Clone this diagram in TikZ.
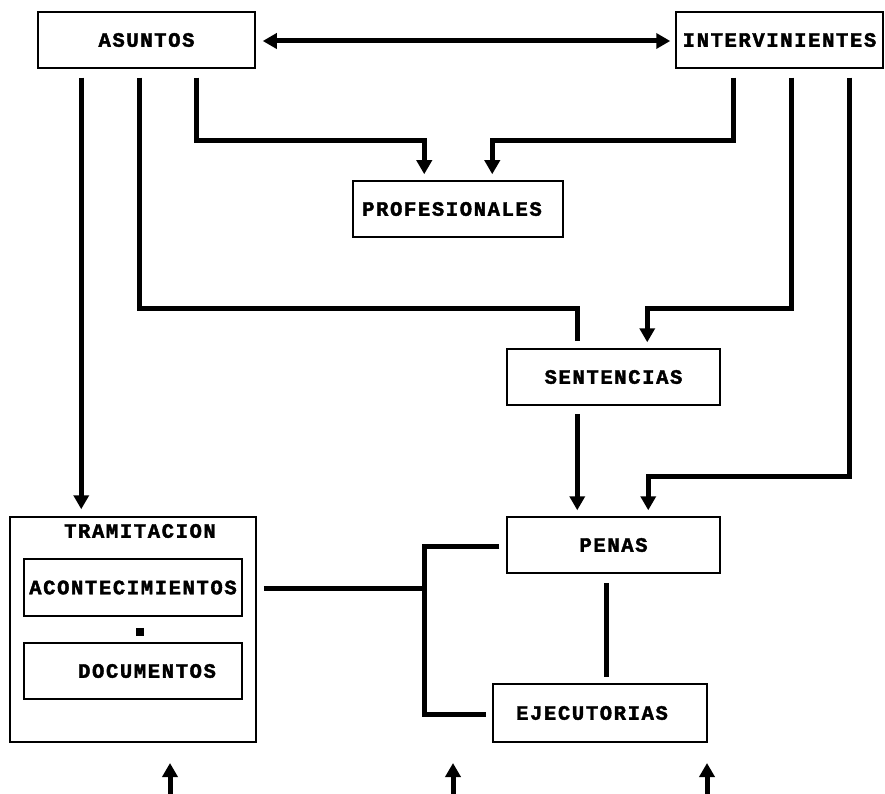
\documentclass[tikz,border=0pt]{standalone}
\usepackage{fontspec}
\setmonofont[LetterSpace=8,FakeBold=2]{Liberation Mono}
\usetikzlibrary{arrows.meta,calc}
\tikzset{
  box/.style={draw=black,line width=1.5pt,rectangle,inner sep=0pt,font=\ttfamily\bfseries\fontsize{20.5}{22}\selectfont},
  conn/.style={draw=black,line width=5pt},
  arr/.style={-{Triangle[width=15pt,length=14pt]}},
  darr/.style={{Triangle[width=15pt,length=14pt]}-{Triangle[width=15pt,length=14pt]}},
  lbl/.style={inner sep=0pt,font=\ttfamily\bfseries\fontsize{20.5}{22}\selectfont}
}
\begin{document}
\begin{tikzpicture}[x=1pt,y=-1pt]
\useasboundingbox (0,0) rectangle (885,794);
% nodes
\node[box,minimum width=217pt,minimum height=56pt] (asuntos) at (146.5,40) {ASUNTOS};
\node[box,minimum width=207pt,minimum height=56pt] (interv) at (779.5,40) {INTERVINIENTES};
\node[box,minimum width=210pt,minimum height=56pt] (prof) at (458,209) {};
\node[lbl] (proftxt) at (452,209) {PROFESIONALES};
\node[box,minimum width=213pt,minimum height=56pt] (sent) at (613.5,377) {SENTENCIAS};
\node[box,minimum width=213pt,minimum height=56pt] (penas) at (613.5,545) {PENAS};
\node[box,minimum width=214pt,minimum height=58pt] (ejec) at (600,713) {};
\node[lbl] (ejectxt) at (592,713) {EJECUTORIAS};
\node[box,minimum width=246pt,minimum height=225pt] (tram) at (133,629.5) {};
\node[lbl] (tramtxt) at (140,531) {TRAMITACION};
\node[box,minimum width=218pt,minimum height=57pt] (acon) at (133,587.5) {ACONTECIMIENTOS};
\node[box,minimum width=218pt,minimum height=56pt] (docu) at (133,671) {};
\node[lbl] (docutxt) at (147,671) {DOCUMENTOS};
% free ends of bottom arrows
\coordinate (b1) at (170,794);
\coordinate (b2) at (453,794);
\coordinate (b3) at (707,794);
% connectors
\draw[conn,darr] ($(asuntos.east)+(7,1)$) -- ($(interv.west)+(-5,1)$);
\draw[conn,arr] ($(asuntos.south west)+(44,9)$) -- ($(tram.north west)+(72,-7)$);
\draw[conn,arr] ($(asuntos.south west)+(159,9)$) -- ($(asuntos.south west)+(159,72)$) -| ($(prof.north west)+(72,-6)$);
\draw[conn,arr] ($(interv.south west)+(58,9)$) -- ($(interv.south west)+(58,72)$) -| ($(prof.north west)+(140,-6)$);
\draw[conn] ($(asuntos.south west)+(102,9)$) -- ($(asuntos.south west)+(102,240)$) -| ($(sent.north west)+(71,-7)$);
\draw[conn,arr] ($(interv.south west)+(116,9)$) -- ($(interv.south west)+(116,240)$) -| ($(sent.north west)+(141,-6)$);
\draw[conn,arr] ($(sent.south west)+(71,8)$) -- ($(penas.north west)+(71,-6)$);
\draw[conn,arr] ($(interv.south west)+(174,9)$) -- ($(interv.south west)+(174,408)$) -| ($(penas.north west)+(142,-6)$);
\draw[conn] ($(penas.south west)+(100,9)$) -- ($(ejec.north west)+(114,-6)$);
\draw[conn] ($(penas.west)+(-7,1)$) -- ($(penas.west)+(-82,1)$) -- ($(ejec.west)+(-68,1)$) -- ($(ejec.west)+(-6,1)$);
\draw[conn] ($(tram.east)+(7,-41.5)$) -- ($(penas.west)+(-82,43)$);
\draw[line width=8pt] ($(acon.south)+(7,11)$) -- ($(docu.north)+(7,-6)$);
\draw[conn,arr] (b1) -- ++(0,-31);
\draw[conn,arr] (b2) -- ++(0,-31);
\draw[conn,arr] (b3) -- ++(0,-31);
\end{tikzpicture}
\end{document}
